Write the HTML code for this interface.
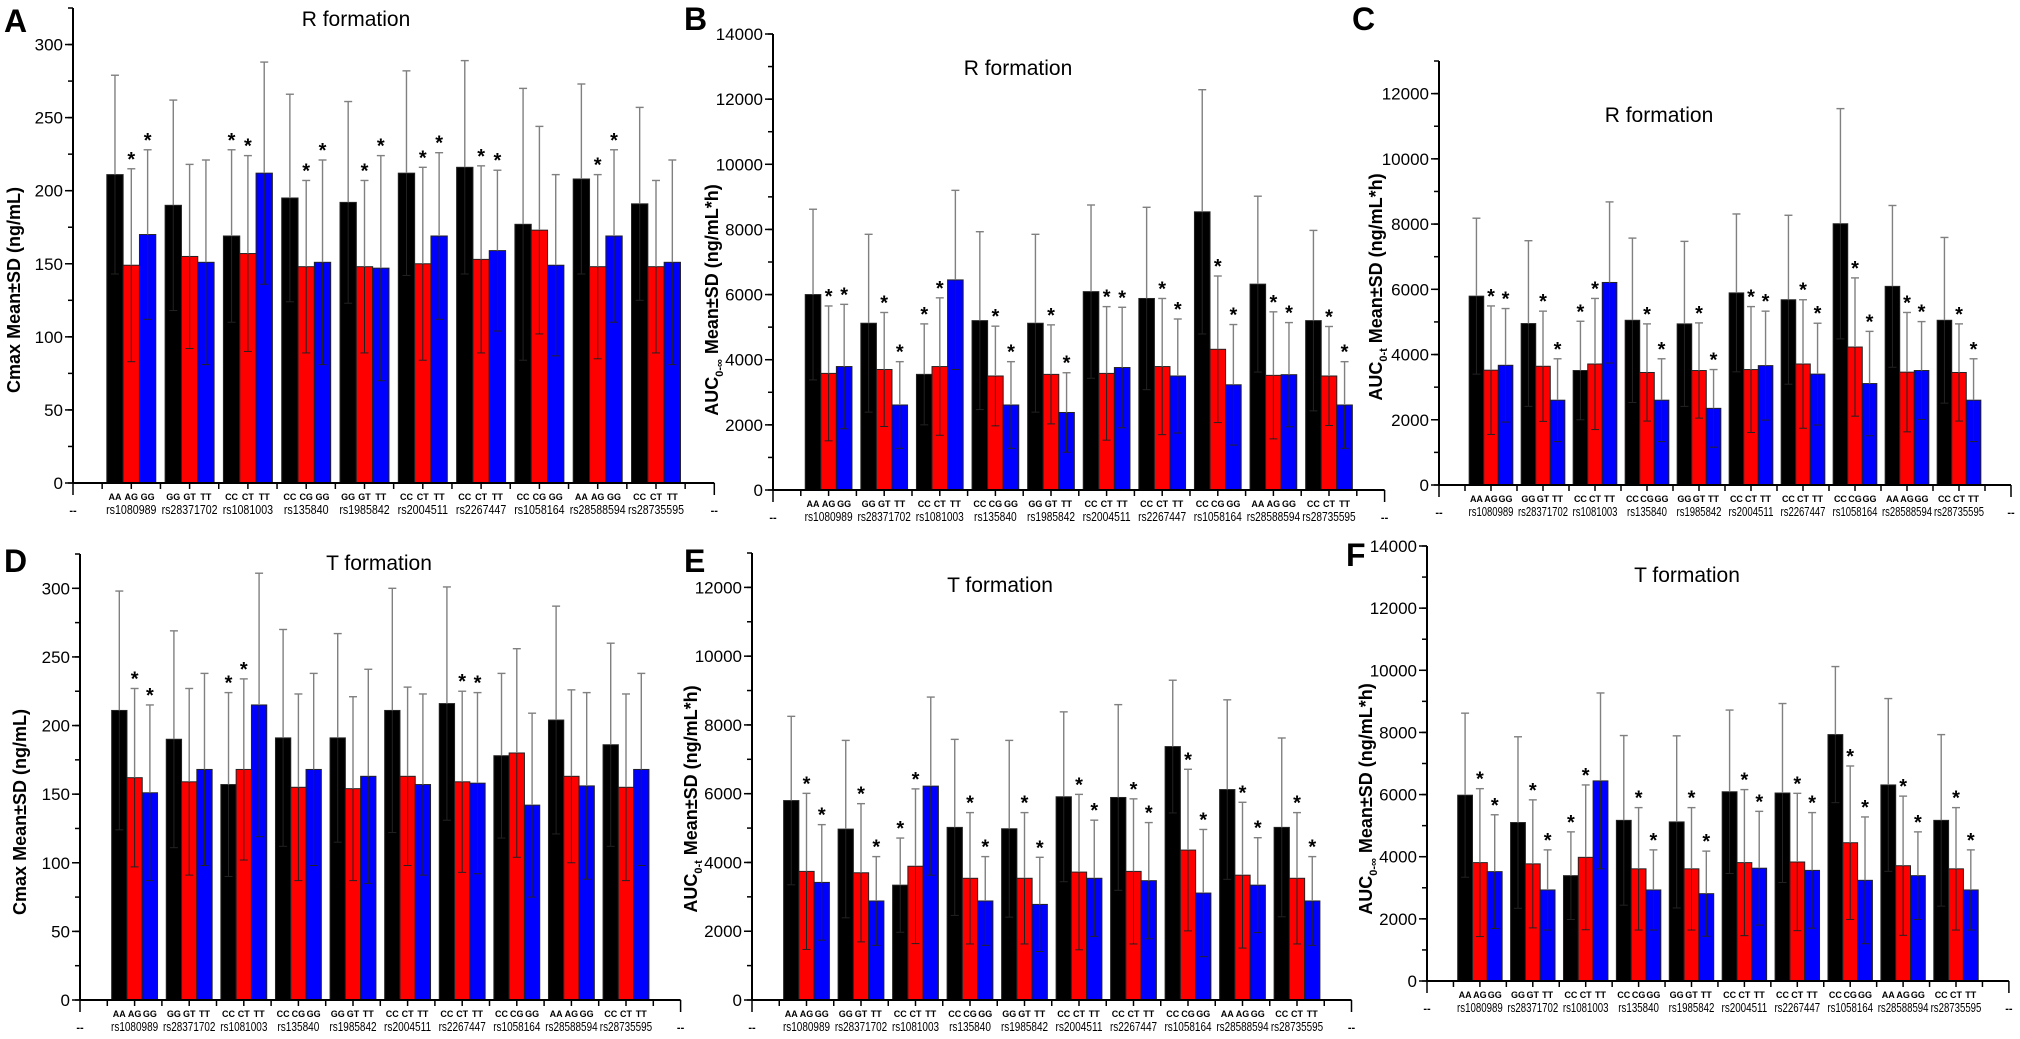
<!DOCTYPE html>
<html><head><meta charset="utf-8"><style>
html,body{margin:0;padding:0;background:#fff;}
svg{display:block;font-family:"Liberation Sans",Arial,sans-serif;}
</style></head><body>
<svg id="fig" width="2020" height="1039" viewBox="0 0 2020 1039"></svg>
<script>
const snps = ["rs1080989","rs28371702","rs1081003","rs135840","rs1985842","rs2004511","rs2267447","rs1058164","rs28588594","rs28735595"];
const genos = [["AA","AG","GG"],["GG","GT","TT"],["CC","CT","TT"],["CC","CG","GG"],["GG","GT","TT"],["CC","CT","TT"],["CC","CT","TT"],["CC","CG","GG"],["AA","AG","GG"],["CC","CT","TT"]];

const aBlack=[211,190,169,195,192,212,216,177,208,191];
const aRed=[149,155,157,148,148,150,153,173,148,148];
const aBlue=[170,151,212,151,147,169,159,149,169,151];
const aBlackSD=[68,72,59,71,69,70,73,93,65,66];
const aRedSD=[66,63,67,59,59,66,64,71,63,59];
const aBlueSD=[58,70,76,70,77,57,55,62,59,70];

const bBlack=[6000,5120,3550,5200,5120,6090,5880,8540,6320,5200];
const bRed=[3580,3700,3790,3500,3550,3580,3790,4320,3520,3500];
const bBlue=[3790,2610,6450,2610,2380,3760,3500,3230,3540,2610];
const bBlackSD=[2620,2730,1550,2730,2730,2660,2800,3750,2700,2770];
const bRedSD=[2070,1750,2110,1530,1520,2050,2090,2250,1950,1520];
const bBlueSD=[1910,1330,2750,1330,1220,1850,1750,1850,1600,1330];

const cBlack=[5790,4950,3510,5050,4940,5890,5680,8010,6090,5050];
const cRed=[3520,3640,3710,3450,3510,3540,3710,4230,3460,3450];
const cBlue=[3670,2600,6210,2600,2350,3660,3400,3110,3510,2600];
const cBlackSD=[2390,2540,1510,2520,2530,2420,2590,3530,2480,2540];
const cRedSD=[1970,1690,2010,1490,1460,1930,1970,2120,1830,1490];
const cBlueSD=[1740,1270,2470,1270,1190,1670,1560,1600,1500,1270];

const dBlack=[211,190,157,191,191,211,216,178,204,186];
const dRed=[162,159,168,155,154,163,159,180,163,155];
const dBlue=[151,168,215,168,163,157,158,142,156,168];
const dBlackSD=[87,79,67,79,76,89,85,60,83,74];
const dRedSD=[65,68,66,68,67,65,66,76,63,68];
const dBlueSD=[64,70,96,70,78,66,66,67,68,70];

const eBlack=[5800,4970,3340,5020,4980,5910,5890,7370,6120,5020];
const eRed=[3740,3700,3890,3540,3540,3720,3740,4360,3630,3540];
const eBlue=[3420,2880,6220,2880,2780,3540,3470,3110,3340,2880];
const eBlackSD=[2450,2580,1370,2560,2570,2470,2700,1930,2610,2600];
const eRedSD=[2270,2010,2250,1910,1910,2260,2110,2350,2120,1910];
const eBlueSD=[1680,1290,2590,1290,1370,1690,1690,1850,1380,1290];

const fBlack=[5980,5100,3390,5170,5120,6090,6050,7930,6310,5170];
const fRed=[3810,3770,3980,3610,3610,3810,3830,4450,3710,3610];
const fBlue=[3520,2930,6440,2930,2810,3630,3560,3240,3390,2930];
const fBlackSD=[2640,2760,1410,2730,2770,2630,2880,2190,2780,2760];
const fRedSD=[2380,2060,2330,1970,1970,2350,2210,2470,2240,1970];
const fBlueSD=[1830,1290,2830,1290,1370,1830,1860,2040,1410,1290];

const starK=[0,0,1,0,0,0,0,0,0,0];
const aStarR=[1,0,1,1,1,1,1,0,1,0];
const aStarB=[1,0,0,1,1,1,1,0,1,0];
const aucStarR=[1,1,1,1,1,1,1,1,1,1];
const aucStarB=[1,1,0,1,1,1,1,1,1,1];
const dStarR=[1,0,1,0,0,0,1,0,0,0];
const dStarB=[1,0,0,0,0,0,1,0,0,0];

const cmaxTicks=[0,50,100,150,200,250,300];
const auc14Ticks=[0,2000,4000,6000,8000,10000,12000,14000];
const auc13Ticks=[0,2000,4000,6000,8000,10000,12000];

const NS="http://www.w3.org/2000/svg";
const svg=document.getElementById('fig');
function mk(tag,attrs,parent){const e=document.createElementNS(NS,tag);for(const k in attrs)e.setAttribute(k,attrs[k]);(parent||svg).appendChild(e);return e;}

const panels=[
 {id:'a',letter:'A',lx:4,ly:32,ax:73,base:483,top:8,ymax:325,step:58.3,ticks:cmaxTicks,minor:25,title:'R formation',tx:356,ty:26,ytitle:['Cmax Mean±SD (ng/mL)'],ytx:20,yty:290,
  k:aBlack,r:aRed,b:aBlue,ks:aBlackSD,rs:aRedSD,bs:aBlueSD,sk:starK,sr:aStarR,sb:aStarB},
 {id:'b',letter:'B',lx:684,ly:30,ax:773,base:490,top:34,ymax:14000,step:55.6,ticks:auc14Ticks,minor:1000,title:'R formation',tx:1018,ty:75,ytitle:['AUC','0-∞',' Mean±SD (ng/mL*h)'],ytx:718,yty:300,
  k:bBlack,r:bRed,b:bBlue,ks:bBlackSD,rs:bRedSD,bs:bBlueSD,sk:starK,sr:aucStarR,sb:aucStarB},
 {id:'c',letter:'C',lx:1352,ly:30,ax:1439,base:485,top:61,ymax:13000,step:52,ticks:auc13Ticks,minor:1000,title:'R formation',tx:1659,ty:122,ytitle:['AUC','0-t',' Mean±SD (ng/mL*h)'],ytx:1382,yty:287,
  k:cBlack,r:cRed,b:cBlue,ks:cBlackSD,rs:cRedSD,bs:cBlueSD,sk:starK,sr:aucStarR,sb:aucStarB},
 {id:'d',letter:'D',lx:4,ly:572,ax:80,base:1000,top:554,ymax:325,step:54.6,ticks:cmaxTicks,minor:25,title:'T formation',tx:379,ty:570,ytitle:['Cmax Mean±SD (ng/mL)'],ytx:26,yty:812,
  k:dBlack,r:dRed,b:dBlue,ks:dBlackSD,rs:dRedSD,bs:dBlueSD,sk:starK,sr:dStarR,sb:dStarB},
 {id:'e',letter:'E',lx:684,ly:572,ax:752,base:1000,top:553,ymax:13000,step:54.5,ticks:auc13Ticks,minor:1000,title:'T formation',tx:1000,ty:592,ytitle:['AUC','0-t',' Mean±SD (ng/mL*h)'],ytx:697,yty:799,
  k:eBlack,r:eRed,b:eBlue,ks:eBlackSD,rs:eRedSD,bs:eBlueSD,sk:starK,sr:aucStarR,sb:aucStarB},
 {id:'f',letter:'F',lx:1346,ly:566,ax:1427,base:981,top:546,ymax:14000,step:52.9,ticks:auc14Ticks,minor:1000,title:'T formation',tx:1687,ty:582,ytitle:['AUC','0-∞',' Mean±SD (ng/mL*h)'],ytx:1372,yty:799,
  k:fBlack,r:fRed,b:fBlue,ks:fBlackSD,rs:fRedSD,bs:fBlueSD,sk:starK,sr:aucStarR,sb:aucStarB}
];

panels.forEach(p=>{
  const g=mk('g',{});
  
  
  const y=v=>p.base-(v/p.ymax)*(p.base-p.top);
  const x=i=>p.ax+i*p.step;
  // letter
  const L=mk('text',{x:p.lx,y:p.ly,'font-size':32,'font-weight':'bold'},g);L.textContent=p.letter;
  
  
  // title
  const T=mk('text',{x:p.tx,y:p.ty,'font-size':21,'text-anchor':'middle'},g);T.textContent=p.title;
  
  
  // y title
  const YT=mk('text',{x:0,y:0,'font-size':18,'font-weight':'bold','text-anchor':'middle',transform:`translate(${p.ytx},${p.yty}) rotate(-90)`},g);
  
  
  if(p.ytitle.length===1){YT.textContent=p.ytitle[0];}
  else{const t1=mk('tspan',{},YT);t1.textContent=p.ytitle[0];const t2=mk('tspan',{'font-size':11,dy:5},YT);t2.textContent=p.ytitle[1];const t3=mk('tspan',{dy:-5},YT);t3.textContent=p.ytitle[2];}
  // bars
  const series=[[p.k,p.ks,p.sk,'#000000','black'],[p.r,p.rs,p.sr,'#ff0000','red'],[p.b,p.bs,p.sb,'#0000ff','blue']];
  const bw=p.step*0.28;
  snps.forEach((s,i)=>{
    const cx=x(i+1);
    series.forEach((ser,j)=>{
      const v=ser[0][i],sd=ser[1][i];
      const bx=cx-1.5*bw+j*bw;
      const bc=bx+bw/2;
      const r=mk('rect',{x:bx,y:y(v),width:bw,height:p.base-y(v),fill:ser[3],stroke:'#222',"stroke-width":1},g);
      
      
      const up=mk('line',{x1:bc,x2:bc,y1:y(v),y2:y(v+sd),stroke:'#808080','stroke-width':1.4},g);
      
      
      mk('line',{x1:bc-4,x2:bc+4,y1:y(v+sd),y2:y(v+sd),stroke:'#808080','stroke-width':1.4},g);
      const lo=mk('line',{x1:bc,x2:bc,y1:y(v),y2:y(Math.max(0,v-sd)),stroke:'#222','stroke-width':1},g);
      
      
      mk('line',{x1:bc-4,x2:bc+4,y1:y(Math.max(0,v-sd)),y2:y(Math.max(0,v-sd)),stroke:'#222','stroke-width':1},g);
      if(ser[2][i]){const st=mk('text',{x:bc,y:y(v+sd)-3,'font-size':20,'font-weight':'bold','text-anchor':'middle'},g);st.textContent='*';
        
        }
      const gl=mk('text',{x:bc,y:p.base+17,'font-size':9,'font-weight':'bold','text-anchor':'middle'},g);gl.textContent=genos[i][j];
      
      
    });
    const sl=mk('text',{x:cx,y:p.base+31,'font-size':13,'text-anchor':'middle',textLength:p.step*0.096*s.length,lengthAdjust:'spacingAndGlyphs'},g);sl.textContent=s;
    
    
  });
  // x axis
  const xa=mk('line',{x1:p.ax,x2:x(11),y1:p.base,y2:p.base,stroke:'#000','stroke-width':2},g);
  
  
  for(let i=0;i<=11;i++){mk('line',{x1:x(i),x2:x(i),y1:p.base,y2:p.base+(i==0||i==11?12:6),stroke:'#000','stroke-width':1.5},g);
    if(i<11)mk('line',{x1:x(i)+p.step/2,x2:x(i)+p.step/2,y1:p.base,y2:p.base+6,stroke:'#000','stroke-width':1.5},g);}
  [0,11].forEach(i=>{const d=mk('text',{x:x(i),y:p.base+31,'font-size':11,'font-weight':'bold','text-anchor':'middle'},g);d.textContent='--';
    
    });
  // y axis
  const ya=mk('line',{x1:p.ax,x2:p.ax,y1:p.base,y2:p.top,stroke:'#000','stroke-width':2},g);
  
  
  for(let v=0;v<=p.ymax+0.001;v+=p.minor){mk('line',{x1:p.ax-5,x2:p.ax,y1:y(v),y2:y(v),stroke:'#000','stroke-width':1.5},g);}
  p.ticks.forEach(v=>{mk('line',{x1:p.ax-8,x2:p.ax,y1:y(v),y2:y(v),stroke:'#000','stroke-width':1.5},g);
    const tl=mk('text',{x:p.ax-10,y:y(v)+6,'font-size':17,'text-anchor':'end'},g);tl.textContent=v;
    
    });
});
</script>
</body></html>
